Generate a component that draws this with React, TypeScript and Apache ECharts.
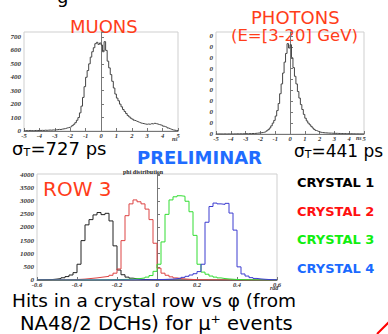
import React, { useEffect, useRef } from 'react';
import * as echarts from 'echarts';

// Timing histograms, bins of 0.1 ns from -5 to 5 ns
const muonCounts = [
  2, 3, 2, 4, 3, 2, 3, 4, 3, 5,
  4, 5, 4, 6, 5, 6, 7, 6, 8, 7,
  9, 10, 12, 11, 14, 16, 18, 22, 25, 28,
  32, 40, 50, 62, 80, 100, 135, 185, 250, 330,
  400, 450, 500, 550, 590, 620, 650, 660, 645, 655,
  640, 590, 665, 600, 520, 470, 420, 370, 320, 275,
  245, 225, 200, 180, 160, 145, 130, 115, 105, 95,
  88, 80, 75, 70, 65, 60, 57, 55, 52, 50,
  52, 50, 55, 53, 58, 55, 52, 48, 45, 42,
  36, 32, 28, 22, 17, 12, 8, 6, 4, 3,
];
const photonCounts = [
  0, 0, 1, 0, 0, 1, 0, 0, 1, 0,
  1, 0, 1, 1, 2, 1, 2, 1, 2, 3,
  3, 2, 4, 3, 5, 4, 6, 7, 9, 10,
  12, 14, 17, 22, 30, 40, 55, 75, 100, 125,
  165, 215, 280, 370, 460, 560, 660, 740, 830, 790,
  820, 700, 610, 530, 460, 390, 330, 270, 225, 180,
  145, 120, 100, 85, 70, 55, 42, 32, 26, 20,
  16, 14, 12, 11, 10, 9, 8, 8, 7, 7,
  6, 6, 5, 5, 4, 4, 4, 3, 3, 3,
  2, 2, 2, 1, 1, 1, 1, 0, 1, 0,
];

// phi distribution, bins of 0.02 rad from -0.6 to 0.6
const crystal1 = [
  5, 8, 12, 20, 35, 55, 85, 130, 190, 280,
  600, 1500, 2100, 2300, 2480, 2570, 2490, 2540, 2250, 1300,
  380, 200, 110, 70, 45, 30, 20, 15, 10, 8,
  6, 5, 4, 3, 3, 2, 2, 1, 1, 1,
  1, 1, 0, 0, 0, 0, 0, 0, 0, 0,
  0, 0, 0, 0, 0, 0, 0, 0, 0, 0,
];
const crystal2 = [
  0, 0, 1, 1, 2, 3, 5, 8, 12, 18,
  25, 35, 50, 65, 80, 100, 120, 140, 180, 260,
  420, 1500, 2450, 2900, 3050, 2980, 2900, 2700, 2300, 1400,
  450, 260, 180, 120, 80, 55, 40, 28, 20, 15,
  10, 8, 6, 5, 4, 3, 2, 2, 1, 1,
  1, 0, 0, 0, 0, 0, 0, 0, 0, 0,
];
const crystal3 = [
  0, 0, 0, 0, 0, 0, 0, 1, 1, 1,
  2, 2, 3, 4, 5, 6, 8, 10, 12, 15,
  18, 22, 28, 35, 45, 60, 80, 110, 170, 330,
  600, 1450, 2500, 3050, 3170, 3210, 3190, 3000, 2600, 1700,
  600, 300, 220, 150, 110, 80, 55, 40, 30, 20,
  15, 10, 8, 6, 5, 4, 3, 2, 1, 1,
];
const crystal4 = [
  0, 0, 0, 0, 0, 0, 0, 0, 0, 0,
  0, 0, 0, 0, 1, 1, 1, 1, 2, 2,
  2, 3, 3, 4, 5, 6, 8, 10, 12, 15,
  18, 22, 28, 35, 50, 70, 100, 140, 190, 240,
  320, 600, 2200, 2800, 2930, 2900, 2880, 2920, 2550, 1900,
  500, 230, 150, 90, 60, 40, 28, 18, 12, 8,
];

const crystalSeries = [crystal1, crystal2, crystal3, crystal4];
const crystalNames = ['CRYSTAL 1', 'CRYSTAL 2', 'CRYSTAL 3', 'CRYSTAL 4'];
const crystalLineColors = ['#222222', '#dd4444', '#33dd33', '#3c3cd0'];
const crystalLabelColors = ['#000000', '#ff1010', '#10ee10', '#1a6aff'];

function hist(values: number[], start: number, width: number) {
  const pts = values.map((v, i) => [+(start + i * width).toFixed(4), v]);
  pts.push([+(start + values.length * width).toFixed(4), values[values.length - 1]]);
  return pts;
}

const tickFont = {
  fontFamily: 'Liberation Serif',
  fontStyle: 'italic' as const,
  fontWeight: 'bold' as const,
  fontSize: 7,
  color: '#333',
};
const slideFont = 'DejaVu Sans';

function axisX(gridIndex: number, min: number, max: number, interval: number, fmt: (v: number) => string) {
  return {
    type: 'value',
    gridIndex,
    min,
    max,
    interval,
    axisLine: { show: true, lineStyle: { color: '#777', width: 1 } },
    axisTick: { show: true, inside: true, length: 3, lineStyle: { color: '#777' } },
    splitLine: { show: false },
    axisLabel: { ...tickFont, fontSize: 6.5, margin: 1, formatter: fmt },
  };
}
function axisY(gridIndex: number, max: number, interval: number, fmt: (v: number) => string) {
  return {
    type: 'value',
    gridIndex,
    min: 0,
    max,
    interval,
    axisLine: { show: true, lineStyle: { color: '#777', width: 1 } },
    axisTick: { show: true, inside: true, length: 3, lineStyle: { color: '#777' } },
    splitLine: { show: false },
    axisLabel: { ...tickFont, margin: 3, formatter: fmt },
  };
}

export default function App() {
  const ref = useRef<HTMLDivElement>(null);
  useEffect(() => {
    if (!ref.current) return;
    const chart = echarts.init(ref.current, undefined, { renderer: 'svg' });
    const gridBase = { show: true, borderColor: '#cfcfcf', borderWidth: 1, backgroundColor: 'transparent' };
    const lineBase = { type: 'line', step: 'end', symbol: 'none', silent: true };
    const unitFont = 'bold italic 6px "Liberation Serif"';
    const texts: any[] = [
      { type: 'text', x: 57, y: -13, style: { text: 'g', font: `18px "${slideFont}"`, fill: '#000' } },
      { type: 'text', x: 70, y: 17, style: { text: 'MUONS', font: `18px "${slideFont}"`, fill: '#ff3d1a' } },
      { type: 'text', x: 251, y: 8, style: { text: 'PHOTONS', font: `18px "${slideFont}"`, fill: '#ff3d1a' } },
      { type: 'text', x: 231, y: 27, style: { text: '(E=[3-20] GeV)', font: `16.5px "${slideFont}"`, fill: '#ff3d1a' } },
      { type: 'text', x: 12, y: 139, style: { text: 'σ', font: `18px "${slideFont}"`, fill: '#000' } },
      { type: 'text', x: 23.5, y: 147, style: { text: 'T', font: `11px "${slideFont}"`, fill: '#000' } },
      { type: 'text', x: 30.5, y: 139, style: { text: '=727 ps', font: `18px "${slideFont}"`, fill: '#000' } },
      { type: 'text', x: 294, y: 142, style: { text: 'σ', font: `17px "${slideFont}"`, fill: '#000' } },
      { type: 'text', x: 304.7, y: 149, style: { text: 'T', font: `11px "${slideFont}"`, fill: '#000' } },
      { type: 'text', x: 311.4, y: 142, style: { text: '=441 ps', font: `17px "${slideFont}"`, fill: '#000' } },
      { type: 'text', x: 172, y: 136, style: { text: 'ns', font: unitFont, fill: '#333' } },
      { type: 'text', x: 356, y: 135, style: { text: 'ns', font: unitFont, fill: '#333' } },
      { type: 'text', x: 137, y: 148, style: { text: 'PRELIMINAR', font: `bold 18px "${slideFont}"`, fill: '#1f6cff' } },
      { type: 'text', x: 123, y: 169, style: { text: 'phi distribution', font: 'bold 6px "Liberation Serif"', fill: '#222' } },
      { type: 'text', x: 43, y: 179, style: { text: 'ROW 3', font: `20px "${slideFont}"`, fill: '#ff3d1a' } },
      { type: 'text', x: 270, y: 284.5, style: { text: 'rad', font: 'bold italic 6px "Liberation Serif"', fill: '#333' } },
      { type: 'text', x: 12, y: 291, style: { text: 'Hits in a crystal row vs φ (from', font: `18.5px "${slideFont}"`, fill: '#000' } },
      { type: 'text', x: 20, y: 313, style: { text: 'NA48/2 DCHs) for μ⁺ events', font: `19.5px "${slideFont}"`, fill: '#000' } },
      { type: 'line', shape: { x1: 377, y1: 334, x2: 389, y2: 322 }, style: { stroke: '#ff0000', lineWidth: 2 } },
    ];
    crystalNames.forEach((name, i) => {
      texts.push({
        type: 'text',
        x: 297,
        y: 176 + i * 28.5,
        style: { text: name, font: `bold 13px "${slideFont}"`, fill: crystalLabelColors[i] },
      });
    });

    chart.setOption({
      animation: false,
      backgroundColor: '#ffffff',
      grid: [
        { ...gridBase, left: 24, top: 32, width: 154, height: 99 },
        { ...gridBase, left: 216, top: 32, width: 148, height: 102 },
        { ...gridBase, left: 37, top: 174, width: 240, height: 106 },
      ],
      xAxis: [
        axisX(0, -5, 5, 1, (v) => String(v)),
        axisX(1, -5, 5, 1, (v) => String(v)),
        axisX(2, -0.6, 0.6, 0.2, (v) => String(Number(v.toFixed(1)))),
      ],
      yAxis: [
        axisY(0, 737, 100, (v) => (v % 100 === 0 ? String(v) : '')),
        axisY(1, 937, 100, (v) => (v % 100 === 0 ? String(v).slice(-1) : '')),
        axisY(2, 4038, 500, (v) => (v % 500 === 0 ? String(v) : '')),
      ],
      series: [
        { ...lineBase, name: 'muons', xAxisIndex: 0, yAxisIndex: 0, data: hist(muonCounts, -5, 0.1), lineStyle: { color: '#444', width: 1 } },
        { ...lineBase, name: 'photons', xAxisIndex: 1, yAxisIndex: 1, data: hist(photonCounts, -5, 0.1), lineStyle: { color: '#444', width: 1 } },
        ...crystalSeries.map((vals, i) => ({
          ...lineBase,
          name: crystalNames[i],
          xAxisIndex: 2,
          yAxisIndex: 2,
          data: hist(vals, -0.6, 0.02),
          lineStyle: { color: crystalLineColors[i], width: 1 },
        })),
      ],
      graphic: texts,
    });
    return () => chart.dispose();
  }, []);
  return (
    <div
      ref={ref}
      style={{ position: 'absolute', left: 0, top: 0, width: 388, height: 334, background: '#fff' }}
    />
  );
}
